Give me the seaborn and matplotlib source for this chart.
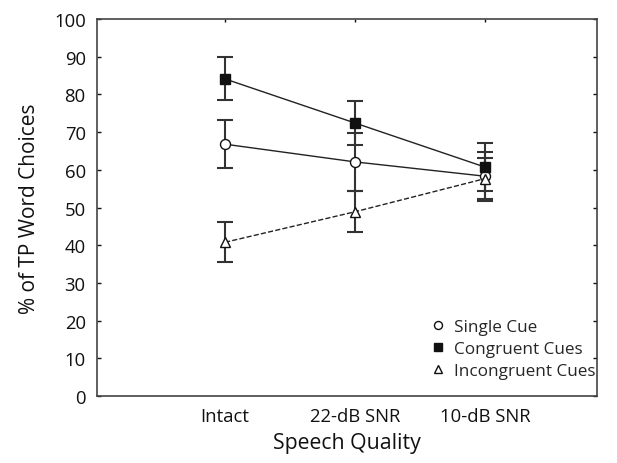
import numpy as np
import pandas as pd
import seaborn as sns
import matplotlib
matplotlib.use("Agg")
import matplotlib.pyplot as plt
from matplotlib.lines import Line2D

# data
conditions = ["Intact", "22-dB SNR", "10-dB SNR"]
single_cue = [66.8, 62.1, 58.3]
single_err = [6.4, 7.6, 6.5]
congruent = [84.1, 72.4, 60.7]
congruent_err = [5.7, 5.9, 6.3]
incongruent = [40.8, 48.9, 57.7]
incongruent_err = [5.3, 5.4, 5.5]
series_names = ["Single Cue", "Congruent Cues", "Incongruent Cues"]

sns.set_style("ticks")
plt.rcParams["font.family"] = ["Open Sans", "DejaVu Sans"]

pos = np.arange(len(conditions))
fig = plt.figure(figsize=(6.17, 4.64), dpi=100)
ax = fig.add_axes([0.157, 0.144, 0.811, 0.813])

styles = [
    (single_cue, single_err, "o", "white", "-", 7.2),
    (congruent, congruent_err, "s", "#111111", "-", 7.2),
    (incongruent, incongruent_err, "^", "white", "--", 6.5),
]

handles = []
for name, (vals, errs, mk, fc, ls, ms) in zip(series_names, styles):
    ax.errorbar(pos, vals, yerr=errs, fmt="none", ecolor="#333333",
                elinewidth=1.5, capsize=6, capthick=1.5, zorder=1)
    sns.lineplot(x=pos, y=vals, ax=ax, color="#222222", linewidth=1.0,
                 linestyle=ls, marker=mk, markersize=ms, markerfacecolor=fc,
                 markeredgecolor="#111111", markeredgewidth=1.0, zorder=3,
                 legend=False)
    handles.append(Line2D([], [], linestyle="none", marker=mk, markersize=ms * 0.8,
                          markerfacecolor=fc, markeredgecolor="#111111",
                          markeredgewidth=1.0, label=name))

ax.set_xlim(-0.985, 2.86)
ax.set_ylim(0, 100)
ax.set_yticks(np.arange(0, 101, 10))
ax.set_xticks(pos)
ax.set_xticklabels(conditions)

ax.tick_params(axis="y", direction="in", length=3, width=1, left=True, right=True,
               labelsize=13.3, colors="#111111", pad=8)
ax.tick_params(axis="x", direction="in", length=2, width=1, bottom=False, top=True,
               labelsize=13.3, colors="#111111", pad=8)
for sp in ax.spines.values():
    sp.set_visible(True)
    sp.set_color("#444444")
    sp.set_linewidth(1.2)

ax.set_xlabel("Speech Quality", fontsize=15.3, color="#111111", labelpad=5)
ax.set_ylabel("% of TP Word Choices", fontsize=15, color="#111111", labelpad=10)

ax.legend(handles=handles, loc="lower right", frameon=False, fontsize=12.3,
          handlelength=0.8, handletextpad=0.5, labelspacing=0.35,
          borderaxespad=0.3, bbox_to_anchor=(1.02, 0.015))

fig.savefig("out.png", dpi=100)
